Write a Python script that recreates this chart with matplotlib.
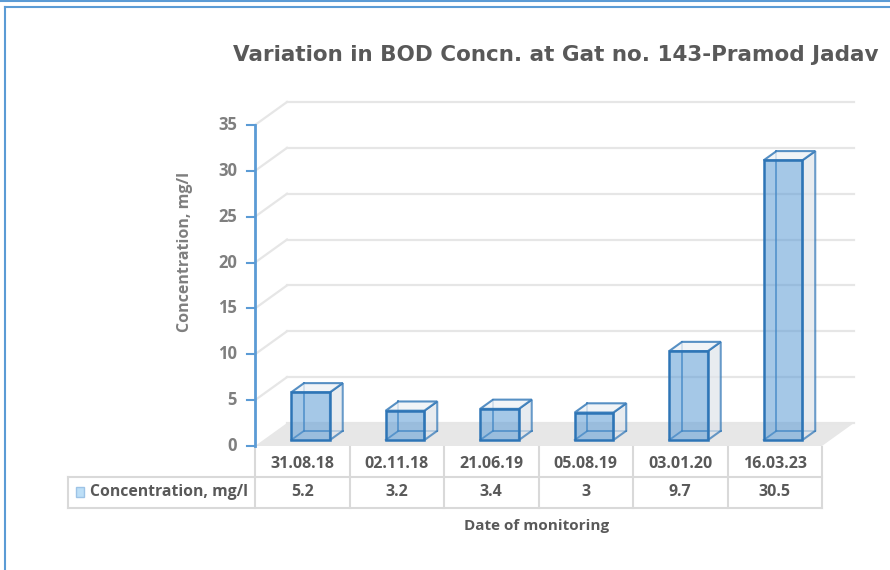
import matplotlib
matplotlib.use('Agg')
import matplotlib.pyplot as plt
from matplotlib.patches import Polygon, Rectangle
from matplotlib.lines import Line2D

# data
dates = ["31.08.18", "02.11.18", "21.06.19", "05.08.19", "03.01.20", "16.03.23"]
bod = [5.2, 3.2, 3.4, 3, 9.7, 30.5]
value_labels = ["5.2", "3.2", "3.4", "3", "9.7", "30.5"]
y_ticks = [0, 5, 10, 15, 20, 25, 30, 35]
series_name = "Concentration, mg/l"
title = "Variation in BOD Concn. at Gat no. 143-Pramod Jadav"
x_title = "Date of monitoring"

FONT = ['Open Sans', 'DejaVu Sans']
W, H = 890, 570
# pixel geometry of the plot: category 0 starts at x=255px, one category = 94.5px,
# value 0 sits at y=446px (from top), one mg/l = 321/35 px
X0, CW = 255, 94.5
Y0, UH = 446, 321 / 35
DX, DY = 32 / CW, 23 / UH  # oblique depth of the 3-D box


def xd(p):
    return (p - X0) / CW


def yd(p):
    return (Y0 - p) / UH


def proj(x, y, f):
    return (x + f * DX, y + f * DY)


fig = plt.figure(figsize=(W / 100, H / 100), dpi=100)
ax = fig.add_axes([0, 0, 1, 1])
ax.axis('off')
ax.set_xlim(xd(0), xd(W))
ax.set_ylim(yd(H), yd(0))

n = len(dates)

# floor and walls
ax.add_patch(Polygon([proj(0, 0, 0), proj(n, 0, 0), proj(n, 0, 1), proj(0, 0, 1)],
                     closed=True, facecolor='#e7e7e7', edgecolor='none', zorder=1))
for t in y_ticks:
    if t > 0:
        a, b = proj(0, t, 0), proj(0, t, 1)
        ax.plot([a[0], b[0]], [a[1], b[1]], color='#e6e6e6', lw=1.6, zorder=1)
    a, b = proj(0, t, 1), proj(n, t, 1)
    ax.plot([a[0], b[0]], [a[1], b[1]], color='#e6e6e6', lw=1.6, zorder=1)

# y axis
ax.plot([0, 0], [0, y_ticks[-1]], color='#5b9bd5', lw=2, zorder=5)
for t in y_ticks:
    ax.plot([xd(247), 0], [t, t], color='#5b9bd5', lw=1.5, zorder=5)
    ax.text(xd(237), t, str(t), ha='right', va='center', fontsize=12,
            fontweight='bold', color='#7f7f7f', family=FONT)

# 3-D boxes
edge = '#2e75b6'
f1, f2 = 0.26, 0.66
bw = 0.41
for i, v in enumerate(bod):
    x0, x1 = i + 0.5 - bw / 2, i + 0.5 + bw / 2
    # hidden edges, seen through the front face
    for p, q in [((x0, 0, f2), (x0, v, f2)), ((x0, 0, f2), (x1, 0, f2)),
                 ((x0, 0, f1), (x0, 0, f2))]:
        a, b = proj(*p), proj(*q)
        ax.plot([a[0], b[0]], [a[1], b[1]], color=edge, lw=1.3, alpha=0.8, zorder=3)
    side = [proj(x1, 0, f1), proj(x1, 0, f2), proj(x1, v, f2), proj(x1, v, f1)]
    ax.add_patch(Polygon(side, closed=True, facecolor='#dfe4ea', alpha=0.7,
                         edgecolor=edge, lw=1.5, zorder=4))
    top = [proj(x0, v, f1), proj(x1, v, f1), proj(x1, v, f2), proj(x0, v, f2)]
    ax.add_patch(Polygon(top, closed=True, facecolor='#eef2f6', alpha=0.8,
                         edgecolor=edge, lw=1.5, zorder=4))
    front = [proj(x0, 0, f1), proj(x1, 0, f1), proj(x1, v, f1), proj(x0, v, f1)]
    ax.add_patch(Polygon(front, closed=True, facecolor='#5b9bd5', alpha=0.55,
                         edgecolor='none', zorder=5))
    ax.add_patch(Polygon(front, closed=True, facecolor='none',
                         edgecolor=edge, lw=1.8, zorder=6))

# data table
grid_c = '#d9d9d9'
r_top, r_mid, r_bot = yd(447), yd(477), yd(508)
leg_left = xd(68)
for y in (r_mid, r_bot):
    ax.plot([leg_left, n], [y, y], color=grid_c, lw=1.5, zorder=2)
for i in range(n + 1):
    ax.plot([i, i], [r_top, r_bot], color=grid_c, lw=1.5, zorder=2)
ax.plot([leg_left, leg_left], [r_mid, r_bot], color=grid_c, lw=1.5, zorder=2)
for i, (d, s) in enumerate(zip(dates, value_labels)):
    ax.text(i + 0.5, (r_top + r_mid) / 2 - 0.2, d, ha='center', va='center',
            fontsize=11.5, fontweight='bold', color='#595959', family=FONT)
    ax.text(i + 0.5, (r_mid + r_bot) / 2, s, ha='center', va='center',
            fontsize=11.5, fontweight='bold', color='#595959', family=FONT)
ax.add_patch(Rectangle((xd(76), yd(497)), 8 / CW, 10 / UH, facecolor='#bddff7',
                       edgecolor='#9dc3e6', lw=1, zorder=3))
ax.text(xd(90), (r_mid + r_bot) / 2, series_name, ha='left', va='center',
        fontsize=11.3, fontweight='bold', color='#595959', family=FONT)

# titles
ax.text(xd(537), yd(526), x_title, ha='center', va='center', fontsize=11,
        fontweight='bold', color='#595959', family=FONT)
ax.text(xd(185), yd(252), series_name, ha='center', va='center', rotation=90,
        fontsize=11.5, fontweight='bold', color='#7f7f7f', family=FONT)
ax.text(xd(233), yd(55), title, ha='left', va='center', fontsize=15.5,
        fontweight='bold', color='#595959', family=['DejaVu Sans'])

# chart frame
fig.add_artist(Line2D([0, 1], [1 - 1 / H, 1 - 1 / H], color='#5b9bd5', lw=1.5))
fig.add_artist(Line2D([5 / W, 1], [1 - 7 / H, 1 - 7 / H], color='#5b9bd5', lw=1.5))
fig.add_artist(Line2D([5 / W, 5 / W], [0, 1 - 7 / H], color='#5b9bd5', lw=1.5))

fig.savefig('out.png', dpi=100)
